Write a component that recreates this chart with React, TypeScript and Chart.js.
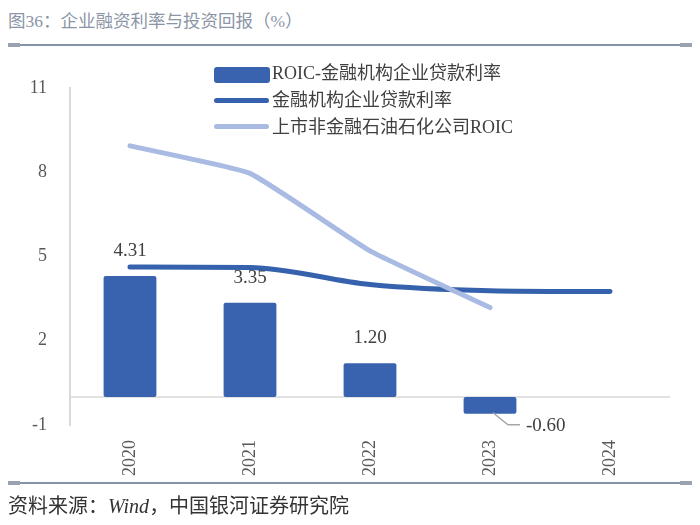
import React, { useEffect, useRef } from "react";
import { Chart, registerables } from "chart.js";

Chart.register(...registerables);

const years = ["2020", "2021", "2022", "2023", "2024"];
const roicSpread = [4.31, 3.35, 1.2, -0.6, null];
const loanRate = [4.63, 4.61, 4.0, 3.78, 3.75];
const petroRoic = [8.94, 7.96, 5.2, 3.18, null];
const yTicks = [-1, 2, 5, 8, 11];

const seriesNames = ["ROIC-金融机构企业贷款利率", "金融机构企业贷款利率", "上市非金融石油石化公司ROIC"];
const titleText = "图36：企业融资利率与投资回报（%）";

const BAR_COLOR = "#3A63AF";
const DARK_LINE = "#3661AD";
const LIGHT_LINE = "#A9BBE2";
const FONT = '"Liberation Serif", "Noto Sans CJK SC", serif';

const zeroLinePlugin = {
  id: "zeroLine",
  beforeDatasetsDraw(chart: any) {
    const { ctx, chartArea, scales } = chart;
    const y0 = scales.y.getPixelForValue(0);
    ctx.save();
    ctx.strokeStyle = "#d9d9d9";
    ctx.lineWidth = 1.5;
    ctx.beginPath();
    ctx.moveTo(chartArea.left, y0);
    ctx.lineTo(chartArea.right, y0);
    ctx.stroke();
    ctx.restore();
  },
};

const barLabelPlugin = {
  id: "barLabels",
  afterDatasetDraw(chart: any, args: any) {
    if (args.index !== 0) return;
    const { ctx } = chart;
    ctx.save();
    ctx.font = `19px ${FONT}`;
    ctx.fillStyle = "#404040";
    args.meta.data.forEach((bar: any, i: number) => {
      const v = roicSpread[i];
      if (v == null) return;
      const text = v.toFixed(2);
      if (v >= 0) {
        ctx.textAlign = "center";
        ctx.textBaseline = "middle";
        ctx.fillText(text, bar.x, bar.y - 25);
      } else {
        ctx.strokeStyle = "#a6a6a6";
        ctx.lineWidth = 1.5;
        ctx.beginPath();
        ctx.moveTo(bar.x + 3, bar.y - 1);
        ctx.lineTo(bar.x + 18, bar.y + 11);
        ctx.lineTo(bar.x + 30, bar.y + 11);
        ctx.stroke();
        ctx.textAlign = "left";
        ctx.textBaseline = "middle";
        ctx.fillText(text, bar.x + 36, bar.y + 12);
      }
    });
    ctx.restore();
  },
};

export default function App() {
  const ref = useRef<HTMLCanvasElement | null>(null);

  useEffect(() => {
    if (!ref.current) return;
    const chart = new Chart(ref.current, {
      type: "bar",
      data: {
        labels: years,
        datasets: [
          {
            type: "bar",
            label: seriesNames[0],
            data: roicSpread as any,
            backgroundColor: BAR_COLOR,
            borderRadius: 2,
            borderSkipped: false,
            categoryPercentage: 1,
            barPercentage: 0.44,
            order: 3,
          },
          {
            type: "line",
            label: seriesNames[1],
            data: loanRate,
            borderColor: DARK_LINE,
            borderWidth: 5,
            borderCapStyle: "round",
            borderJoinStyle: "round",
            pointRadius: 0,
            cubicInterpolationMode: "monotone",
            order: 2,
          },
          {
            type: "line",
            label: seriesNames[2],
            data: petroRoic as any,
            borderColor: LIGHT_LINE,
            borderWidth: 5,
            borderCapStyle: "round",
            borderJoinStyle: "round",
            pointRadius: 0,
            tension: 0.12,
            spanGaps: false,
            order: 1,
          },
        ],
      },
      options: {
        animation: false,
        responsive: false,
        devicePixelRatio: 1,
        layout: { padding: { top: 88, right: 30, left: 0, bottom: 0 } },
        plugins: {
          legend: { display: false },
          tooltip: { enabled: false },
        },
        scales: {
          x: {
            grid: { display: false, drawTicks: false },
            border: { display: false },
            ticks: {
              minRotation: 90,
              maxRotation: 90,
              padding: 15,
              color: "#595959",
              font: { family: FONT, size: 18 },
            },
            afterFit: (s: any) => {
              s.height = 100;
            },
          },
          y: {
            min: -1,
            max: 11,
            afterBuildTicks: (s: any) => {
              s.ticks = yTicks.map((v) => ({ value: v }));
            },
            grid: { display: false, drawTicks: false },
            border: { display: true, color: "#d9d9d9", width: 2 },
            ticks: {
              padding: 23,
              color: "#595959",
              font: { family: FONT, size: 18 },
            },
            afterFit: (s: any) => {
              s.width = 70;
            },
          },
        },
      },
      plugins: [zeroLinePlugin, barLabelPlugin],
    });
    return () => chart.destroy();
  }, []);

  const legendText: React.CSSProperties = {
    position: "absolute",
    left: 272,
    fontSize: 18,
    lineHeight: "20px",
    color: "#404040",
    fontFamily: FONT,
    whiteSpace: "nowrap",
  };

  const rule = (top: number): React.ReactNode => (
    <>
      <div style={{ position: "absolute", left: 8, width: 684, top, height: 2, background: "#8391aa" }} />
      <div style={{ position: "absolute", left: 8, width: 12, top: top - 1, height: 4, background: "#9aa2b0" }} />
      <div style={{ position: "absolute", left: 680, width: 12, top: top - 1, height: 4, background: "#9aa2b0" }} />
    </>
  );

  return (
    <div
      style={{
        position: "absolute",
        left: 0,
        top: 0,
        width: 700,
        height: 525,
        background: "#ffffff",
        overflow: "hidden",
        fontFamily: FONT,
      }}
    >
      <div
        style={{
          position: "absolute",
          left: 8,
          top: 9,
          fontSize: 17.5,
          lineHeight: "24px",
          color: "#8b95a5",
          whiteSpace: "nowrap",
        }}
      >
        {titleText}
      </div>
      {rule(44)}
      <canvas ref={ref} width={700} height={525} style={{ position: "absolute", left: 0, top: 0 }} />
      <div style={{ position: "absolute", left: 214, top: 67, width: 56, height: 16, background: BAR_COLOR, borderRadius: 3 }} />
      <div style={{ ...legendText, top: 63 }}>{seriesNames[0]}</div>
      <div style={{ position: "absolute", left: 214, top: 98, width: 55, height: 5, background: DARK_LINE, borderRadius: 3 }} />
      <div style={{ ...legendText, top: 90 }}>{seriesNames[1]}</div>
      <div style={{ position: "absolute", left: 214, top: 124, width: 55, height: 5, background: LIGHT_LINE, borderRadius: 3 }} />
      <div style={{ ...legendText, top: 117 }}>{seriesNames[2]}</div>
      {rule(482)}
      <div
        style={{
          position: "absolute",
          left: 8,
          top: 494,
          fontSize: 20,
          lineHeight: "24px",
          color: "#333333",
          whiteSpace: "nowrap",
        }}
      >
        资料来源：<span style={{ fontStyle: "italic" }}>Wind</span>，中国银河证券研究院
      </div>
    </div>
  );
}
